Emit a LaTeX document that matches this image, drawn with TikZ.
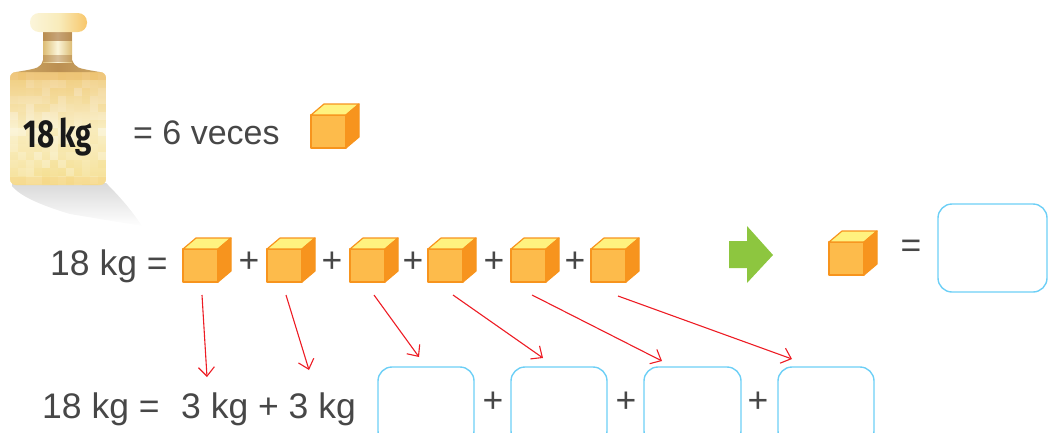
\documentclass[tikz,border=0pt]{standalone}
\usepackage{fontspec}
\setmainfont{Liberation Sans}
\newfontfamily\labelfont{Fira Sans}[UprightFont={* Bold}]
\usetikzlibrary{arrows.meta,fadings}

\definecolor{txt}{HTML}{474747}
\definecolor{cubefront}{HTML}{FDBB4B}
\definecolor{cubetop}{HTML}{FFF27F}
\definecolor{cubeside}{HTML}{F7941E}
\definecolor{cubeedge}{HTML}{F7941D}
\definecolor{boxblue}{HTML}{6DCFF6}
\definecolor{arrowred}{HTML}{ED1C24}
\definecolor{arrowgreen}{HTML}{8DC63F}
\definecolor{wpale}{HTML}{FBF5DA}
\definecolor{wgold}{HTML}{F5DE8E}
\definecolor{wband}{HTML}{EDBF6E}
\definecolor{wbrown}{HTML}{A36E38}

\tikzset{
  pics/orangecube/.style={code={
    \fill[cubefront,draw=cubeedge,line width=1.2,line join=round] (0,0) rectangle (35,33);
    \fill[cubetop,draw=cubeedge,line width=1.2,line join=round] (0,0) -- (13,-11) -- (48,-11) -- (35,0) -- cycle;
    \fill[cubeside,draw=cubeedge,line width=1.2,line join=round] (35,0) -- (48,-11) -- (48,22) -- (35,33) -- cycle;
  }},
  rowtext/.style={text=txt,inner sep=0,anchor=base west,font=\fontsize{35.5}{40}\selectfont},
  plussign/.style={text=txt,inner sep=0,font=\fontsize{35.5}{40}\selectfont},
  ansbox/.style={draw=boxblue,line width=1.4,rounded corners=14,inner sep=0},
  redarrow/.style={draw=arrowred,line width=1.1,-{Straight Barb[length=9,width=16]}},
}

\begin{document}
\begin{tikzpicture}[x=1pt,y=-1pt]
\useasboundingbox (0,0) rectangle (1049,432);

% ---- weight ----
\fill[gray!30,path fading=south] (12,183) -- (106,183) .. controls (118,195) and (130,208) .. (142,226) -- (70,214) .. controls (40,205) and (20,196) .. (12,186) -- cycle;
\begin{scope}
  \path[clip,rounded corners=6] (10,72) -- (106,72) -- (106,185) -- (10,185) -- cycle;
  \shade[top color=wband,bottom color=wgold,middle color=wpale] (10,72) rectangle (106,185);
  \pgfmathsetseed{7}
  \foreach \i in {0,...,11}{
    \foreach \j in {0,...,14}{
      \pgfmathtruncatemacro\r{rnd*100}
      \fill[{wpale!\r!wgold},fill opacity=0.4] (10+8*\i,72+8*\j) rectangle ++(8,8);
    }
  }
  \fill[wband,fill opacity=0.6] (10,72) rectangle (106,80);
  \fill[wgold!80!orange,fill opacity=0.3] (10,177) rectangle (106,185);
\end{scope}
\shade[left color=wbrown!50!wgold,right color=wbrown!50!wgold,middle color=wbrown!70!wgold] (43,60) .. controls (40,68) .. (16,72) -- (100,72) .. controls (76,68) .. (72,60) -- cycle;
\shade[left color=wbrown!30!wgold,right color=wbrown!30!wgold,middle color=wpale] (43,30) rectangle (72,62);
\fill[wbrown,fill opacity=0.6] (43,30) rectangle (72,41);
\fill[wbrown,fill opacity=0.4] (43,55) rectangle (72,62);
\shade[left color=wpale,right color=wgold!75!orange,middle color=wpale!60!wgold,rounded corners=9] (30,13) rectangle (87,32);
\node[inner sep=0,anchor=base,text=black!90,font=\labelfont\fontsize{39}{40}\selectfont] (wlabel) at (58,147) {\scalebox{0.76}[1]{18\,kg}};

% ---- first line ----
\node[rowtext,font=\fontsize{34}{38}\selectfont] (sixtimes) at (133,144) {= 6 veces};
\pic at (311,115) {orangecube};

% ---- second line ----
\node[rowtext] (lhs1) at (50,275) {18 kg =};
\pic at (183,249) {orangecube};
\pic at (267,249) {orangecube};
\pic at (350,249) {orangecube};
\pic at (428,249) {orangecube};
\pic at (511,249) {orangecube};
\pic at (591,249) {orangecube};
\node[plussign] (p1) at (249,262) {+};
\node[plussign] (p2) at (332,262) {+};
\node[plussign] (p3) at (413,262) {+};
\node[plussign] (p4) at (494,262) {+};
\node[plussign] (p5) at (575,262) {+};

\fill[arrowgreen] (729,241) -- (747,241) -- (747,226) -- (773,255) -- (747,283) -- (747,268) -- (729,268) -- cycle;
\pic at (829,242) {orangecube};
\node[plussign] (eq) at (911,249) {=};
\node[ansbox,minimum width=109,minimum height=88] (ans) at (992.5,248) {};

% ---- third line ----
\node[rowtext] (lhs2) at (42,418) {18 kg =};
\node[rowtext] (sum) at (181,418) {3 kg + 3 kg};
\node[ansbox,minimum width=96,minimum height=78] (b1) at (426,406) {};
\node[ansbox,minimum width=96,minimum height=78] (b2) at (559,406) {};
\node[ansbox,minimum width=97,minimum height=78] (b3) at (692.5,406) {};
\node[ansbox,minimum width=96,minimum height=78] (b4) at (826,406) {};
\node[plussign] (q1) at (493,402) {+};
\node[plussign] (q2) at (626,402) {+};
\node[plussign] (q3) at (758,402) {+};

% ---- arrows from each cube ----
\coordinate (s1) at (202,295); \coordinate (t1) at (207,377);
\coordinate (s2) at (286,295); \coordinate (t2) at (309,370);
\coordinate (s3) at (374,295); \coordinate (t3) at (419,357);
\coordinate (s4) at (453,295); \coordinate (t4) at (543,358);
\coordinate (s5) at (532,295); \coordinate (t5) at (662,361);
\coordinate (s6) at (618,296); \coordinate (t6) at (792,359);
\foreach \k in {1,...,6}{\draw[redarrow] (s\k) -- (t\k);}
\end{tikzpicture}
\end{document}
